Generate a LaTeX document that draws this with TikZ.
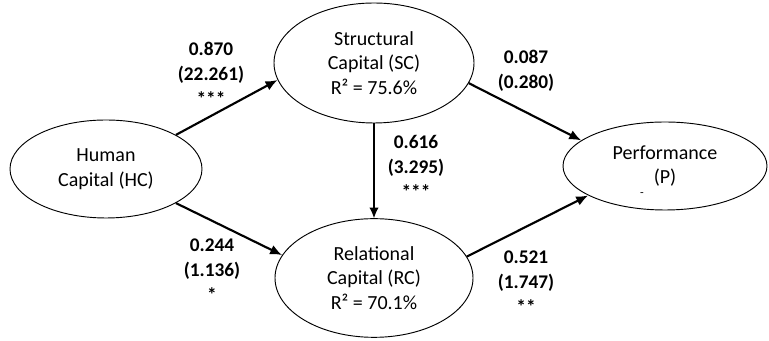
\documentclass[tikz,border=0pt]{standalone}
\usepackage{fontspec}
\setmainfont{Carlito}
\usetikzlibrary{shapes.geometric, arrows.meta}
\tikzstyle{lv}=[draw, ellipse, line width=0.7pt, inner sep=0pt, align=center, font=\fontsize{15}{18.5}\selectfont]
\tikzstyle{coef}=[align=center, inner sep=0pt, font=\bfseries\fontsize{14.5}{18.75}\selectfont]
\tikzstyle{link}=[-{Latex[length=9pt,width=7.5pt]}, line width=1.6pt]

\begin{document}
\begin{tikzpicture}[x=0.75pt,y=-0.75pt]
  \useasboundingbox (0,0) rectangle (769,341);
  % latent variables
  \node [lv, minimum width=144pt, minimum height=73.5pt] (hc) at (106,169) {Human\\Capital (HC)};
  \node [lv, minimum width=150pt, minimum height=90pt] (sc) at (374,63) {Structural\\Capital (SC)\\R² = 75.6\%};
  \node [lv, minimum width=148.5pt, minimum height=89pt] (rc) at (374,278) {Relational\\Capital (RC)\\R² = 70.1\%};
  \node [lv, minimum width=153pt, minimum height=66pt] (p) at (665,166) {Performance\\(P)};
  \node [font=\fontsize{9}{10}\selectfont, inner sep=0pt] (pdash) at (642,195) {-};
  % paths
  \path[link] (hc.26) edge (sc.190);
  \path[link] (hc.-26) edge (rc.166);
  \path[link] (sc.-12) edge (p.163);
  \path[link] (rc.13) edge (p.201);
  \path[-{Latex[length=8pt,width=7pt]}, line width=0.8pt] (sc.south) edge (rc.north);
  % coefficients
  \node [coef] (c1) at (211,74) {0.870\\(22.261)\\***};
  \node [coef] (c2) at (212,270) {0.244\\(1.136)\\*};
  \node [coef] (c3) at (526,71) {0.087\\(0.280)};
  \node [coef] (c4) at (416,167) {0.616\\(3.295)\\***};
  \node [coef] (c5) at (526,282) {0.521\\(1.747)\\**};
\end{tikzpicture}
\end{document}
